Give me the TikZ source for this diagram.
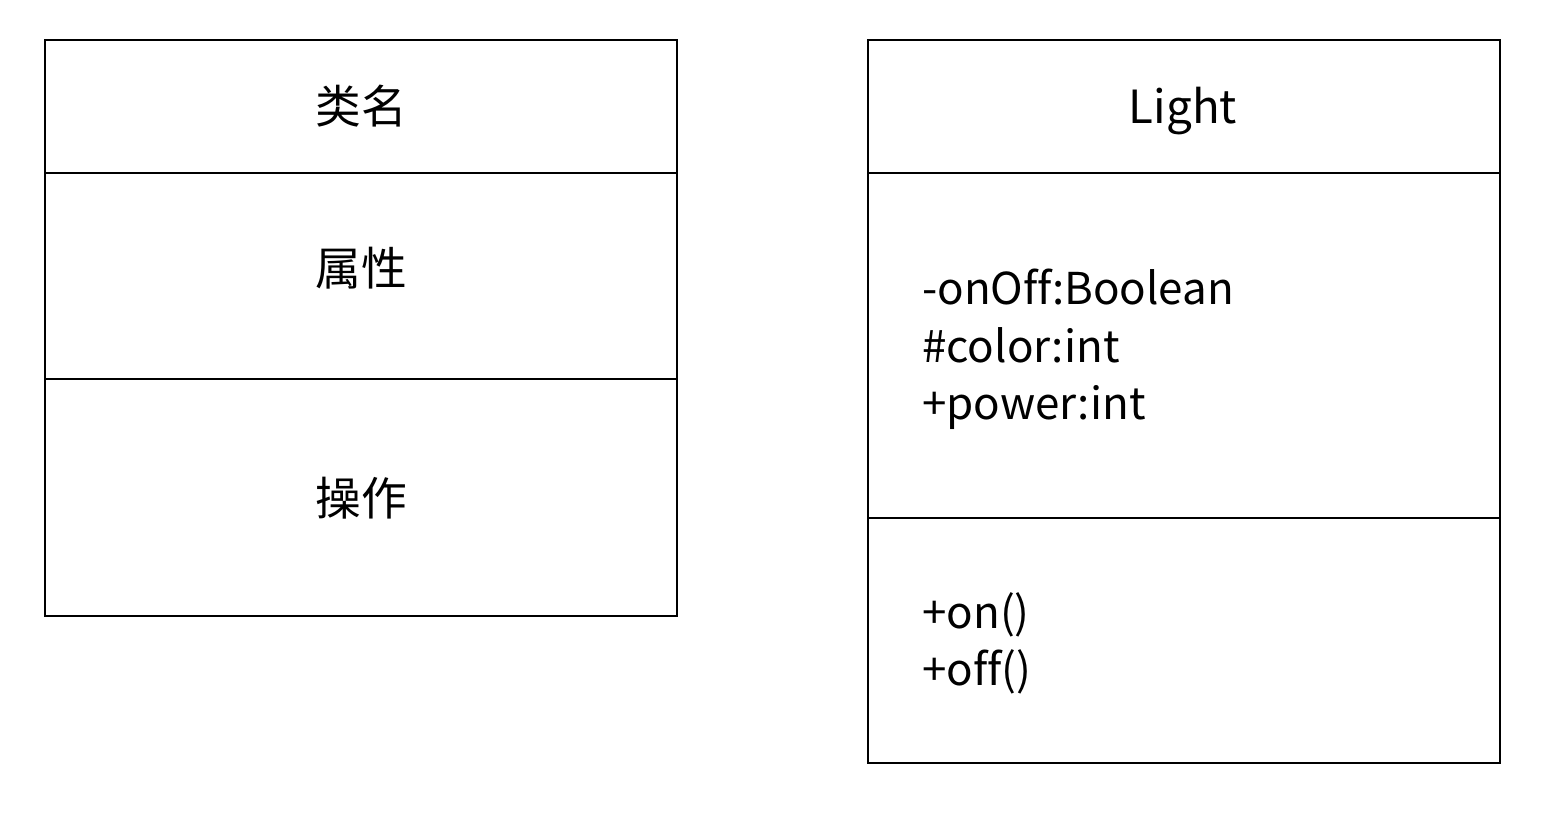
\documentclass[tikz,border=0pt]{standalone}
\usepackage{fontspec}
\setmainfont{Noto Sans CJK SC}[Ligatures=NoCommon]
\begin{document}
\begin{tikzpicture}[x=0.02cm, y=-0.02cm, line width=1.4pt,
    title/.style={font=\fontsize{26}{30}\selectfont},
    member/.style={font=\fontsize{25}{30}\selectfont, anchor=base west, inner sep=0pt}]
    \useasboundingbox (0,0) rectangle (1544,817);

    % general class box
    \draw (45,40) rectangle (677,616);
    \draw (45,173) -- (677,173);
    \draw (45,379) -- (677,379);
    \node[title] (gname) at (361,106) {类名};
    \node[title] (gattr) at (361,268) {属性};
    \node[title] (gops) at (361,498) {操作};

    % Light class box
    \draw (868,40) rectangle (1500,763);
    \draw (868,173) -- (1500,173);
    \draw (868,518) -- (1500,518);
    \node[title, anchor=base] (lname) at (1183,124) {Light};
    \node[member] (lattr1) at (921,305) {-onOff:Boolean};
    \node[member] (lattr2) at (921,362) {\#color:int};
    \node[member] (lattr3) at (921,419) {+power:int};
    \node[member] (lop1) at (921,628) {+on()};
    \node[member] (lop2) at (921,685) {+off()};
\end{tikzpicture}
\end{document}
